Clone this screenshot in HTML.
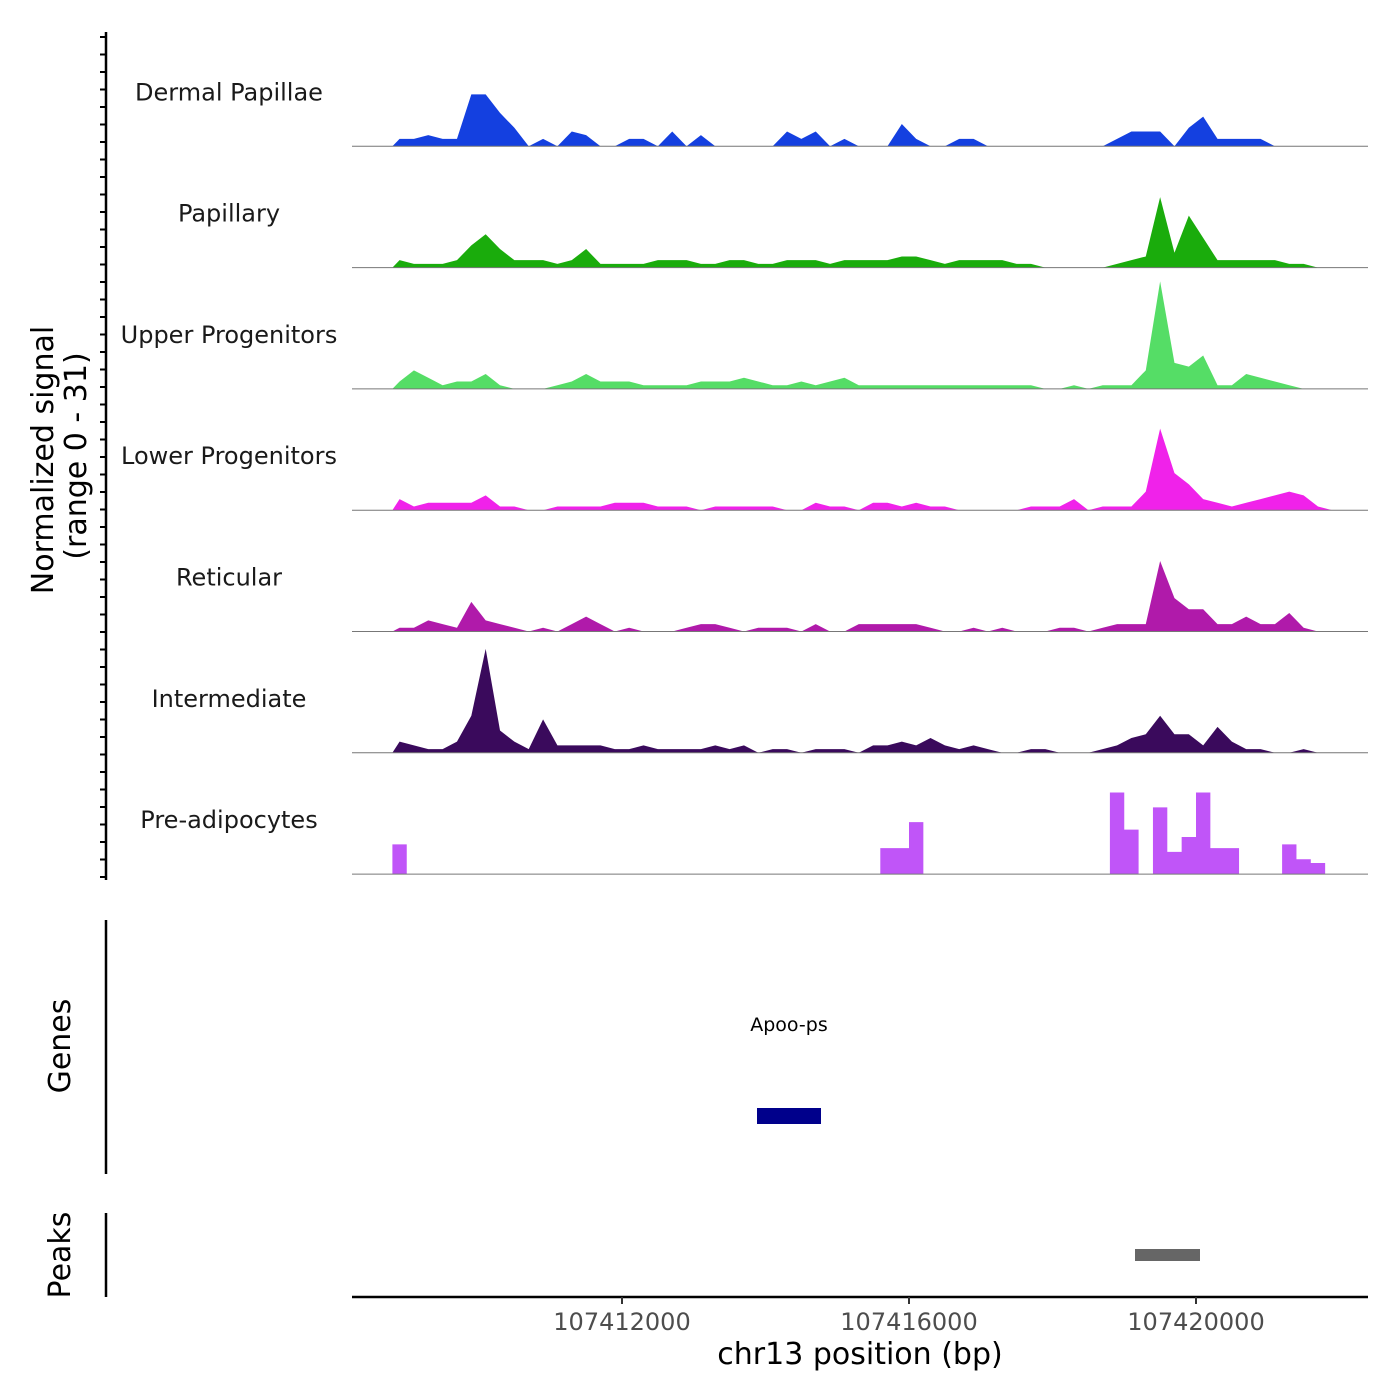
<!DOCTYPE html>
<html><head><meta charset="utf-8">
<style>
html,body{margin:0;padding:0;background:#fff;}
svg{display:block;font-family:"DejaVu Sans","Liberation Sans",sans-serif;}
</style></head>
<body>
<svg id="chart" width="1400" height="1400" viewBox="0 0 1400 1400" xmlns="http://www.w3.org/2000/svg">
  <g id="tracks"></g>
  <g id="leftaxis"></g>
  <text transform="translate(53,460) rotate(-90)" text-anchor="middle" font-size="30" fill="#000">Normalized signal</text>
  <text transform="translate(86,456) rotate(-90)" text-anchor="middle" font-size="30" fill="#000">(range 0 - 31)</text>
  <line x1="106" y1="920" x2="106" y2="1174" stroke="#000" stroke-width="2.5"/>
  <text transform="translate(70,1046) rotate(-90)" text-anchor="middle" font-size="30" fill="#000">Genes</text>
  <text x="789" y="1031" text-anchor="middle" font-size="19" fill="#000">Apoo-ps</text>
  <rect x="757" y="1108" width="64" height="16" fill="#00008b"/>
  <line x1="106" y1="1213" x2="106" y2="1297" stroke="#000" stroke-width="2.5"/>
  <text transform="translate(70,1255) rotate(-90)" text-anchor="middle" font-size="30" fill="#000">Peaks</text>
  <rect x="1135" y="1249" width="65" height="12" fill="#666"/>
  <g id="xaxis"></g>
  <text x="860" y="1364" text-anchor="middle" font-size="30" fill="#000">chr13 position (bp)</text>
</svg>
<script>
const trackNames = ["Dermal Papillae","Papillary","Upper Progenitors","Lower Progenitors","Reticular","Intermediate","Pre-adipocytes"];
const trackColors = ["#1440e0","#1aac0c","#55dd66","#f022ea","#b01aaa","#3a0a5c","#c055f8"];
const binStart = 107408800;
const binSize = 200;
const xTicks = [107412000,107416000,107420000];
const dermalPapillae = [2,2,3,2,2,14,14,9,5,0,2,0,4,3,0,0,2,2,0,4,0,3,0,0,0,0,0,4,2,4,0,2,0,0,0,6,2,0,0,2,2,0,0,0,0,0,0,0,0,0,2,4,4,4,0,5,8,2,2,2,2,0,0,0,0,0];
const papillary = [2,1,1,1,2,6,9,5,2,2,2,1,2,5,1,1,1,1,2,2,2,1,1,2,2,1,1,2,2,2,1,2,2,2,2,3,3,2,1,2,2,2,2,1,1,0,0,0,0,0,1,2,3,19,4,14,8,2,2,2,2,2,1,1,0,0];
const upperProgenitors = [2,5,3,1,2,2,4,1,0,0,0,1,2,4,2,2,2,1,1,1,1,2,2,2,3,2,1,1,2,1,2,3,1,1,1,1,1,1,1,1,1,1,1,1,1,0,0,1,0,1,1,1,5,29,7,6,9,1,1,4,3,2,1,0,0,0];
const lowerProgenitors = [3,1,2,2,2,2,4,1,1,0,0,1,1,1,1,2,2,2,1,1,1,0,1,1,1,1,1,0,0,2,1,1,0,2,2,1,2,1,1,0,0,0,0,0,1,1,1,3,0,1,1,1,5,22,10,7,3,2,1,2,3,4,5,4,1,0];
const reticular = [1,1,3,2,1,8,3,2,1,0,1,0,2,4,2,0,1,0,0,0,1,2,2,1,0,1,1,1,0,2,0,0,2,2,2,2,2,1,0,0,1,0,1,0,0,0,1,1,0,1,2,2,2,19,9,6,6,2,2,4,2,2,5,1,0,0];
const intermediate = [3,2,1,1,3,10,28,6,3,1,9,2,2,2,2,1,1,2,1,1,1,1,2,1,2,0,1,1,0,1,1,1,0,2,2,3,2,4,2,1,2,1,0,0,1,1,0,0,0,1,2,4,5,10,5,5,2,7,3,1,1,0,0,1,0,0];
const preAdipocytes = [8,0,0,0,0,0,0,0,0,0,0,0,0,0,0,0,0,0,0,0,0,0,0,0,0,0,0,0,0,0,0,0,0,0,7,7,14,0,0,0,0,0,0,0,0,0,0,0,0,0,22,12,0,18,6,10,22,7,7,0,0,0,8,4,3,0];
const seriesList = [dermalPapillae,papillary,upperProgenitors,lowerProgenitors,reticular,intermediate,preAdipocytes];

const NS="http://www.w3.org/2000/svg";
const xL=352,xR=1368,top0=32,trackH=121.3,yMax=31,plotH=115;
function xScale(bp){return 622+(bp-107412000)*(287/4000);}
function yScale(v,base){return base - v/yMax*plotH;}
function mk(tag,attrs,parent){const e=document.createElementNS(NS,tag);for(const k in attrs)e.setAttribute(k,attrs[k]);parent.appendChild(e);return e;}

const tracks=document.getElementById('tracks');
seriesList.forEach((vals,t)=>{
  const base=top0+trackH*(t+1)-7;
  const g=mk('g',{},tracks);
  
  
  let pts=[];
  const step=(t===6);
  const x0=xScale(binStart);
  pts.push(x0+','+base);
  vals.forEach((v,i)=>{
    if(step){
      const a=xScale(binStart+i*binSize), b=xScale(binStart+(i+1)*binSize);
      pts.push(a+','+yScale(v,base)); pts.push(b+','+yScale(v,base));
    } else {
      const c=xScale(binStart+(i+0.5)*binSize);
      pts.push(c+','+yScale(v,base));
    }
  });
  pts.push(xScale(binStart+vals.length*binSize)+','+base);
  const area=mk('polygon',{points:pts.join(' '),fill:trackColors[t]},g);
  
  
  const bl=mk('line',{x1:xL,x2:xR,y1:base,y2:base,stroke:'#777','stroke-width':1},g);
  
  
  const lab=mk('text',{x:229,y:base-46,'text-anchor':'middle','font-size':24,fill:'#1a1a1a'},g);
  lab.textContent=trackNames[t];
  
  
});

const la=document.getElementById('leftaxis');
const axl=mk('line',{x1:106,x2:106,y1:32,y2:880,stroke:'#000','stroke-width':2.5},la);


for(let y=37;y<=878;y+=17.5){
  const tk=mk('line',{x1:100,x2:106,y1:y,y2:y,stroke:'#000','stroke-width':2},la);
  
  
}

const xa=document.getElementById('xaxis');
const xl=mk('line',{x1:xL,x2:xR,y1:1297,y2:1297,stroke:'#000','stroke-width':2.5},xa);


xTicks.forEach(v=>{
  const x=xScale(v);
  const tk=mk('line',{x1:x,x2:x,y1:1297,y2:1304,stroke:'#333','stroke-width':2},xa);
  
  
  const tl=mk('text',{x:x,y:1330,'text-anchor':'middle','font-size':24,fill:'#4d4d4d'},xa);
  tl.textContent=String(v);
  
  
});
</script>
</body></html>
